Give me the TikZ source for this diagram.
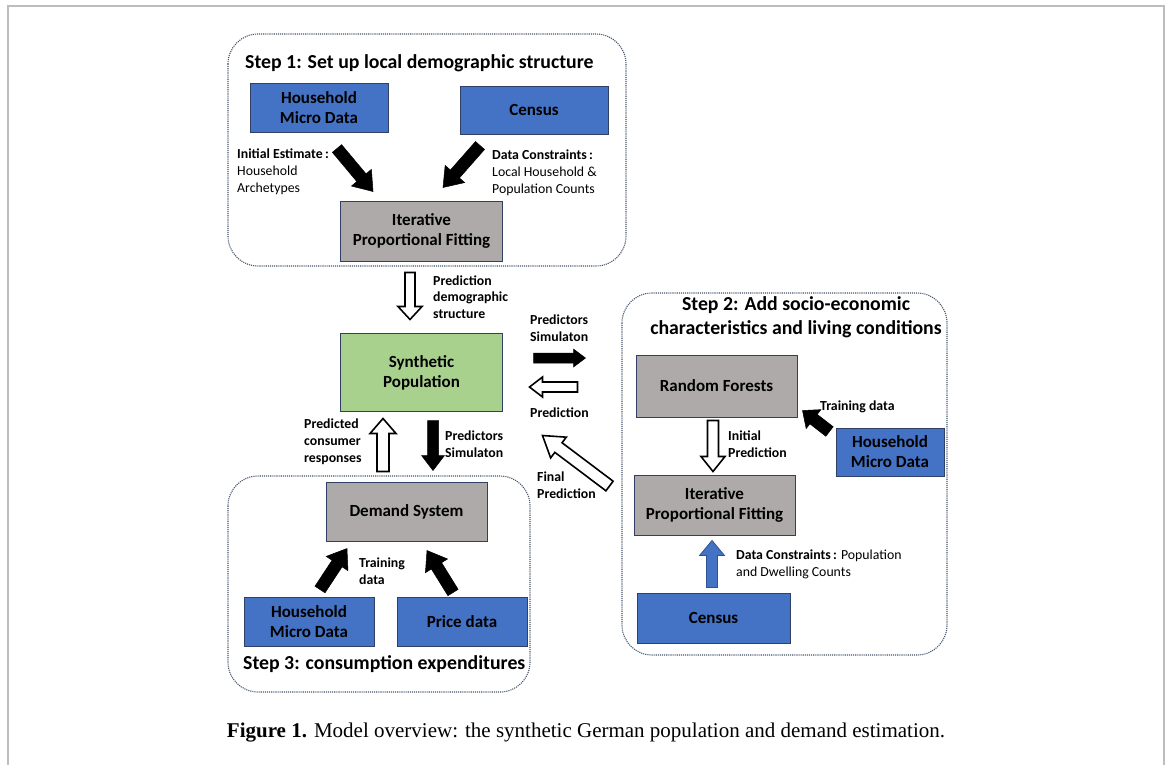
\documentclass[tikz,border=0pt]{standalone}
\usepackage{fontspec}
\setmainfont{Carlito}
\newfontfamily\captionfont{Liberation Serif}
\usetikzlibrary{positioning,calc}
\definecolor{BoxBlue}{HTML}{4472C4}
\definecolor{BoxGrey}{HTML}{AEAAAA}
\definecolor{BoxGreen}{HTML}{A9D18E}
\definecolor{EdgeNavy}{HTML}{2F3F66}
\definecolor{BlueEdge}{HTML}{2F528F}
\definecolor{FrameDots}{HTML}{44546A}
\definecolor{PageGrey}{HTML}{BDBDBD}
\tikzset{
  model box/.style={draw=EdgeNavy,line width=1pt,align=center,inner sep=0pt,
    font=\fontsize{17}{20}\selectfont\bfseries},
  blue box/.style={model box,fill=BoxBlue},
  grey box/.style={model box,fill=BoxGrey},
  green box/.style={model box,fill=BoxGreen},
  step frame/.style={draw=FrameDots,densely dotted,line width=1.1pt,rounded corners=30pt},
  step title/.style={font=\fontsize{19.8}{24}\selectfont\bfseries,inner sep=0pt,align=center},
  arrow label/.style={font=\fontsize{13.8}{16.8}\selectfont,inner sep=0pt,align=left,anchor=west},
  bold label/.style={arrow label,font=\fontsize{13.8}{16.8}\selectfont\bfseries},
  arrow shaft/.store in=\arrshaft, arrow wing/.store in=\arrwing, arrow head/.store in=\arrhead,
  arrow shaft=6pt, arrow wing=13pt, arrow head=18pt,
  solid arrow/.style={draw=black,fill=black,line width=.5pt},
  hollow arrow/.style={draw=black,fill=white,line width=1.6pt},
  blue arrow/.style={draw=BlueEdge,fill=BoxBlue,line width=.8pt}
}
\newcommand{\blockarrow}[3]{%
  \draw[#1] let \p1=#2, \p2=#3, \n1={atan2(\y2-\y1,\x2-\x1)}, \n2={veclen(\x2-\x1,\y2-\y1)} in
    [shift={(\p1)},rotate=\n1] (0pt,-\arrshaft) -- ({\n2-\arrhead},-\arrshaft) -- ({\n2-\arrhead},-\arrwing)
    -- ({\n2*1pt},0pt) -- ({\n2-\arrhead},\arrwing) -- ({\n2-\arrhead},\arrshaft) -- (0pt,\arrshaft) -- cycle;}
\begin{document}
\begin{tikzpicture}[x=1pt,y=-1pt]
  \useasboundingbox (0,0) rectangle (1169,764);
  \draw[PageGrey,line width=1.5pt] (8,770) -- (8,6) -- (1164,6) -- (1164,770);

  \draw[step frame] (228,34) rectangle (626,266);
  \draw[step frame] (622,293) rectangle (947,655);
  \draw[step frame] (228,476) rectangle (530,692);

  \node[step title,anchor=west] (titleA) at (245,63) {Step 1: Set up local demographic structure};
  \node[step title] (titleB) at (796,317) {Step 2: Add socio-economic\\characteristics and living conditions};
  \node[step title,anchor=west] (titleC) at (243,664) {Step 3: consumption expenditures};

  \node[blue box,minimum width=138pt,minimum height=49pt] (hhA) at (319,107.5) {Household\\Micro Data};
  \node[blue box,minimum width=148pt,minimum height=48pt] (cenA) at (534,110) {Census};
  \node[grey box,minimum width=162pt,minimum height=60pt] (ipfA) at (421.5,231) {Iterative\\Proportional Fitting};
  \node[green box,minimum width=162pt,minimum height=78pt] (syn) at (421.5,372.5) {Synthetic\\Population};
  \node[grey box,minimum width=161pt,minimum height=62pt] (rf) at (716.5,386) {Random Forests};
  \node[grey box,minimum width=161pt,minimum height=60pt] (ipfB) at (714.5,505) {Iterative\\Proportional Fitting};
  \node[blue box,minimum width=108pt,minimum height=48pt] (hhB) at (890,452) {Household\\Micro Data};
  \node[blue box,minimum width=153pt,minimum height=50pt] (cenB) at (713.5,618) {Census};
  \node[grey box,minimum width=161pt,minimum height=59pt] (dem) at (406.5,511.5) {Demand System};
  \node[blue box,minimum width=130pt,minimum height=49pt] (hhC) at (309,621.5) {Household\\Micro Data};
  \node[blue box,minimum width=130pt,minimum height=49pt] (price) at (462,621.5) {Price data};

  \blockarrow{solid arrow}{($(hhA.south)+(18,16)$)}{($(ipfA.north)+(-48.5,-9)$)}
  \blockarrow{solid arrow}{($(cenA.south)+(-54,11)$)}{($(ipfA.north)+(21.5,-13)$)}
  \blockarrow{hollow arrow,arrow shaft=5pt,arrow wing=12pt,arrow head=13pt}{($(ipfA.south)+(-11.5,11)$)}{($(syn.north)+(-11.5,-13.5)$)}
  \blockarrow{solid arrow,arrow shaft=5pt,arrow wing=9pt,arrow head=12pt}{($(syn.east)+(30.5,-14.5)$)}{($(syn.east)+(82.5,-14.5)$)}
  \blockarrow{hollow arrow,arrow shaft=5pt,arrow wing=10pt,arrow head=13pt}{($(rf.west)+(-58,1)$)}{($(syn.east)+(26.5,14.5)$)}
  \blockarrow{hollow arrow,arrow shaft=6pt,arrow wing=13pt,arrow head=15pt}{($(dem.north)+(-23.5,-10)$)}{($(syn.south)+(-38.5,6.5)$)}
  \blockarrow{solid arrow,arrow shaft=5.5pt,arrow wing=11.5pt,arrow head=15pt}{($(syn.south)+(11.5,8.5)$)}{($(dem.north)+(26.5,-11)$)}
  \blockarrow{hollow arrow,arrow shaft=6pt,arrow wing=13pt,arrow head=20pt}{($(ipfB.west)+(-24,-19)$)}{($(syn.south east)+(39.5,23.5)$)}
  \blockarrow{solid arrow}{($(hhC.north)+(11,-7)$)}{($(dem.south)+(-59.5,7)$)}
  \blockarrow{solid arrow}{($(price.north)+(-9,-4)$)}{($(dem.south)+(20.5,9)$)}
  \blockarrow{solid arrow,arrow shaft=6pt,arrow wing=12pt,arrow head=14pt}{($(hhB.north west)+(-6,4)$)}{($(rf.south east)+(5,-7)$)}
  \blockarrow{hollow arrow,arrow shaft=5.5pt,arrow wing=12pt,arrow head=15pt}{($(rf.south)+(-3.5,3)$)}{($(ipfB.north)+(-1.5,-3)$)}
  \blockarrow{blue arrow,arrow shaft=5.5pt,arrow wing=12.5pt,arrow head=15pt}{($(cenB.north)+(-1.5,-5)$)}{($(ipfB.south)+(-2.5,5)$)}

  \node[arrow label] (lblEstimate) at (237,171.5) {\textbf{Initial Estimate\,:}\\Household\\Archetypes};
  \node[arrow label] (lblConstrA) at (492,173) {\textbf{Data Constraints\,:}\\Local Household \&\\Population Counts};
  \node[bold label] (lblDemo) at (433,297) {Prediction\\demographic\\structure};
  \node[bold label] (lblSimA) at (530,328.5) {Predictors\\Simulaton};
  \node[bold label] (lblPred) at (530,413) {Prediction};
  \node[bold label] (lblResp) at (304,442) {Predicted\\consumer\\responses};
  \node[bold label] (lblSimB) at (445,444.5) {Predictors\\Simulaton};
  \node[bold label] (lblFinal) at (537,485.5) {Final\\Prediction};
  \node[bold label] (lblTrainC) at (359,571.5) {Training\\data};
  \node[bold label] (lblInit) at (728,444.5) {Initial\\Prediction};
  \node[bold label] (lblTrainB) at (820,407) {Training data};
  \node[arrow label] (lblConstrB) at (736,564.5) {\textbf{Data Constraints\,:} Population\\and Dwelling Counts};

  \node[font=\captionfont\fontsize{21}{24}\selectfont,inner sep=0pt] (caption) at (586,733)
    {\textbf{Figure 1.} Model overview: the synthetic German population and demand estimation.};
\end{tikzpicture}
\end{document}
